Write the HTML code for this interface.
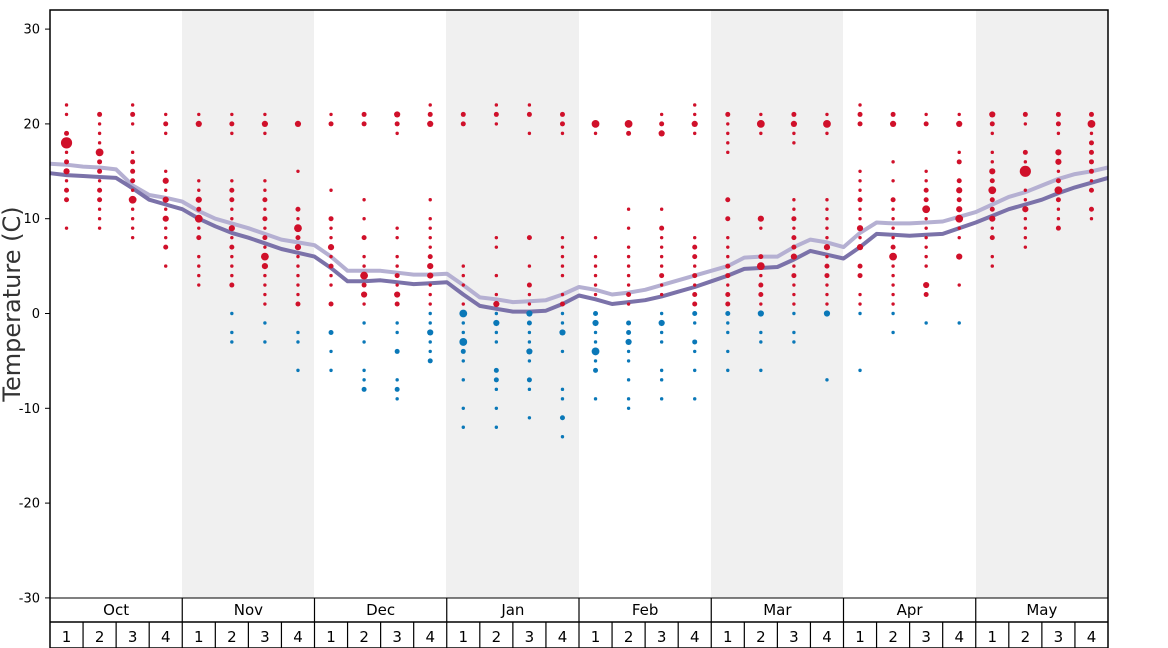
<!DOCTYPE html>
<html><head><meta charset="utf-8"><style>
html,body{margin:0;padding:0;background:#fff;}
svg{display:block;font-family:"DejaVu Sans","Liberation Sans",sans-serif;}
</style></head><body>
<svg id="s" width="1168" height="648" viewBox="0 0 1168 648" xmlns="http://www.w3.org/2000/svg">
<rect x="0" y="0" width="1168" height="648" fill="#fff"/>
<g fill="#f0f0f0">
<rect x="182" y="10" width="132" height="588"/>
<rect x="446" y="10" width="133" height="588"/>
<rect x="711" y="10" width="132" height="588"/>
<rect x="976" y="10" width="132" height="588"/>
</g>
<g id="lines"></g>
<g id="dots"></g>
<rect x="50" y="10" width="1058" height="638" fill="none" stroke="#000" stroke-width="1.5"/>
<line x1="50" y1="598" x2="1108" y2="598" stroke="#000" stroke-width="1"/>
<line x1="50" y1="622" x2="1108" y2="622" stroke="#000" stroke-width="1.5"/>
<g id="ax" font-size="13" fill="#000" text-anchor="end"></g>
<text transform="translate(20,304) rotate(-90)" font-size="24" text-anchor="middle" fill="#333">Temperature (C)</text>
<g id="bot" font-size="15" fill="#000" text-anchor="middle"></g>
</svg>
<script>
var NS="http://www.w3.org/2000/svg";
function el(t,a,p,txt){var e=document.createElementNS(NS,t);for(var k in a)e.setAttribute(k,a[k]);if(txt!==undefined)e.textContent=txt;p.appendChild(e);return e;}
function Y(v){return 313.5-v*9.48;}
var ax=document.getElementById('ax');
for(var v=30;v>=-30;v-=10){el('text',{x:40,y:Y(v)+4.5},ax,String(v));el('line',{x1:45,x2:50,y1:Y(v),y2:Y(v),stroke:'#000'},ax);}
var bot=document.getElementById('bot');
var months=['Oct','Nov','Dec','Jan','Feb','Mar','Apr','May'];
var mw=1058/8;
for(var i=0;i<8;i++){var x0=50+i*mw;el('text',{x:x0+mw/2,y:615},bot,months[i]);
 if(i>0)el('line',{x1:x0,x2:x0,y1:598,y2:648,stroke:'#000','stroke-width':1.2},bot);
 for(var w=0;w<4;w++){var wx=x0+w*mw/4;if(w>0)el('line',{x1:wx,x2:wx,y1:622,y2:648,stroke:'#000','stroke-width':1.2},bot);
 el('text',{x:wx+mw/8,y:642},bot,String(w+1));}}
var D=[
"22:1,21:1,19:2,18:5,17:1,16:2,15:3,14:1,13:2,12:2,9:1",
"21:2,20:1,19:1,18:1,17:4,16:2,15:2,14:1,13:2,12:2,11:1,10:1,9:1",
"22:1,21:2,20:1,17:1,16:2,15:2,14:2,13:1,12:4,11:1,10:1,9:1,8:1",
"21:1,20:2,19:1,15:1,14:3,13:1,12:3,11:1,10:3,9:1,8:1,7:2,5:1",
"21:1,20:3,14:1,13:1,12:3,11:2,10:4,9:1,8:2,6:1,5:1,4:1,3:1",
"21:1,20:2,19:1,14:1,13:2,12:2,11:1,10:1,9:3,8:1,7:2,6:1,5:1,4:1,3:2,0:b1,-2:b1,-3:b1",
"21:1,20:3,19:1,14:1,13:1,12:2,11:1,10:2,9:1,8:2,7:1,6:4,5:3,4:1,3:1,2:1,1:1,-1:b1,-3:b1",
"20:3,15:1,11:2,10:1,9:4,8:2,7:3,6:1,5:1,4:1,3:1,2:1,1:2,-2:b1,-3:b1,-6:b1",
"21:1,20:2,13:1,10:2,9:1,8:1,7:3,6:1,5:2,4:1,3:1,1:2,-2:b2,-4:b1,-6:b1",
"21:2,20:2,12:1,10:1,8:2,6:1,5:1,4:4,3:2,2:3,1:1,-1:b1,-3:b1,-6:b1,-7:b1,-8:b2",
"21:3,20:2,19:1,9:1,8:1,6:1,5:1,4:2,3:1,2:3,1:2,-1:b1,-2:b1,-4:b2,-7:b1,-8:b2,-9:b1",
"22:1,21:2,20:3,12:1,10:1,9:1,8:1,7:1,6:2,5:3,4:3,3:1,2:1,1:1,0:b1,-1:b1,-2:b3,-3:b1,-4:b1,-5:b2",
"21:2,20:2,5:1,4:1,3:1,1:1,0:b4,-1:b1,-2:b1,-3:b4,-4:b2,-5:b1,-7:b1,-10:b1,-12:b1",
"22:1,21:2,20:1,8:1,7:1,4:1,2:1,1:3,0:b1,-1:b3,-2:b1,-3:b1,-6:b2,-7:b2,-8:b1,-10:b1,-12:b1",
"22:1,21:2,19:1,8:2,5:1,3:2,2:1,1:1,0:b3,-1:b2,-2:b1,-3:b1,-4:b3,-5:b1,-7:b2,-8:b1,-11:b1",
"21:2,20:2,19:1,8:1,7:1,6:1,5:1,4:1,2:1,1:2,0:b1,-1:b1,-2:b3,-4:b1,-8:b1,-9:b1,-11:b2,-13:b1",
"20:4,19:1,8:1,6:1,5:1,4:1,3:1,2:1,0:b2,-1:b3,-2:b1,-3:b1,-4:b4,-5:b1,-6:b2,-9:b1",
"20:4,19:2,11:1,9:1,7:1,6:1,5:1,4:1,3:1,2:2,1:1,-1:b2,-2:b2,-3:b3,-4:b1,-5:b1,-7:b1,-9:b1,-10:b1",
"21:1,20:2,19:3,11:1,9:2,8:1,7:1,6:1,5:1,4:2,3:1,2:1,0:b1,-1:b3,-2:b1,-3:b1,-6:b1,-7:b1,-9:b1",
"22:1,21:1,20:3,19:1,8:1,7:2,6:2,5:1,4:2,3:1,2:2,1:2,0:b2,-1:b1,-3:b2,-4:b1,-6:b1,-9:b1",
"21:2,20:1,19:1,18:1,17:1,12:2,10:2,8:1,7:1,6:1,5:2,4:2,3:1,2:2,1:2,0:b2,-1:b1,-2:b1,-4:b1,-6:b1",
"21:1,20:4,19:1,10:3,9:1,6:2,5:4,4:1,3:2,2:2,1:1,0:b3,-2:b1,-3:b1,-6:b1",
"21:2,20:3,19:1,18:1,12:1,11:1,10:2,9:1,8:2,7:2,6:3,5:1,4:2,3:1,2:1,1:1,0:b1,-2:b1,-3:b1",
"21:1,20:4,19:1,12:1,11:1,10:1,9:1,8:1,7:3,6:1,5:2,4:2,3:1,2:1,1:1,0:b3,-7:b1",
"22:1,21:2,20:2,15:1,14:1,13:1,12:2,11:1,10:1,9:3,8:1,7:3,5:2,4:2,2:1,1:1,0:b1,-6:b1",
"21:2,20:3,16:1,14:1,12:2,11:1,10:1,9:1,8:1,7:2,6:4,5:1,4:1,3:1,2:1,1:1,0:b1,-2:b1",
"21:1,20:2,15:1,14:1,13:2,12:2,11:4,10:1,9:1,8:1,7:1,6:1,5:1,3:3,2:2,-1:b1",
"21:1,20:3,17:1,16:2,14:2,13:3,12:2,11:3,10:4,9:1,8:1,6:3,3:1,-1:b1",
"21:3,20:2,19:1,17:1,16:1,15:3,14:2,13:4,12:2,11:2,10:3,9:1,8:2,6:1,5:1",
"21:2,20:1,17:2,16:1,15:5,13:1,12:1,11:3,10:1,9:1,8:1,7:1",
"21:2,20:2,19:1,17:3,16:3,15:1,14:2,13:4,12:2,11:1,10:1,9:2",
"21:2,20:4,19:1,18:2,17:2,16:2,15:2,14:1,13:2,11:2,10:1"];
var R={1:1.7,2:2.5,3:3.1,4:3.9,5:5.6};
var dots=document.getElementById('dots');
var ww=1058/32;
D.forEach(function(s,i){var cx=50+ww*(i+0.5);s.split(',').forEach(function(p){var a=p.split(':');var b=a[1][0]=='b';var sz=+(b?a[1].slice(1):a[1]);
el('circle',{cx:cx,cy:Y(+a[0]),r:R[sz],fill:b?'#0a78b8':'#d0102a'},dots);});});
var light=[15.8,15.7,15.5,15.4,15.2,13.5,12.5,12.2,11.8,10.8,10,9.5,9,8.4,7.8,7.5,7.2,6,4.5,4.5,4.5,4.3,4.1,4.1,4.2,3,1.7,1.5,1.2,1.3,1.4,2,2.8,2.5,2,2.2,2.5,3,3.5,4,4.5,5,5.9,6,6,7,7.8,7.5,7,8.5,9.6,9.5,9.5,9.6,9.7,10.2,10.7,11.5,12.3,12.8,13.5,14.2,14.7,15,15.4];
var dark=[14.8,14.6,14.5,14.4,14.3,13.2,12,11.5,11,10,9.2,8.5,8,7.4,6.8,6.4,6,4.8,3.4,3.4,3.5,3.3,3.1,3.2,3.3,2,0.8,0.5,0.2,0.2,0.3,1,1.9,1.5,1,1.2,1.4,1.8,2.3,2.8,3.4,4,4.7,4.8,4.9,5.7,6.6,6.2,5.8,7,8.4,8.3,8.2,8.3,8.4,9,9.6,10.3,11,11.5,12,12.7,13.3,13.8,14.3];
function pl(arr,col){var pts=arr.map(function(v,i){return (50+i*ww/2).toFixed(1)+','+Y(v).toFixed(1);}).join(' ');
el('polyline',{points:pts,fill:'none',stroke:col,'stroke-width':4,'stroke-linejoin':'round'},document.getElementById('lines'));}
pl(light,'#b5b0d2');pl(dark,'#7b72a9');
</script>
</body></html>
